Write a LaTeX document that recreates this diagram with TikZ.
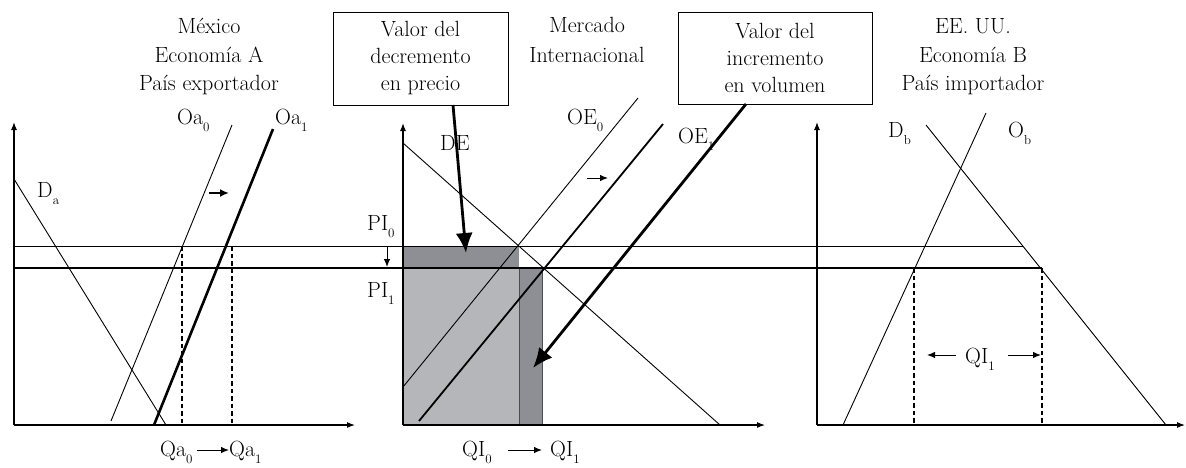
\documentclass[tikz,border=0pt]{standalone}
\usepackage{fontspec}
\usetikzlibrary{arrows.meta}
\definecolor{darkfill}{HTML}{8E8F94}
\definecolor{lightfill}{HTML}{B5B6BA}
\newcommand\lsub[1]{\raisebox{-7.5pt}{\fontsize{13}{13}\selectfont #1}}
\begin{document}
\begin{tikzpicture}[x=1pt,y=-1pt,
  axisln/.style={line width=1.1pt,-{Latex[length=8pt,width=6pt]}},
  thinln/.style={line width=0.9pt},
  thickln/.style={line width=2.6pt},
  dashln/.style={line width=1.1pt,dash pattern=on 4.5pt off 3pt},
  smallarr/.style={line width=1pt,-{Latex[length=8pt,width=6.5pt]}},
  bigarr/.style={line width=2.8pt,-{Latex[length=20pt,width=17pt]}},
  lbl/.style={font=\fontsize{22}{27}\selectfont,inner sep=0pt,anchor=base west},
  ttl/.style={font=\fontsize{22}{27}\selectfont,inner sep=0pt,anchor=base},
  boxn/.style={draw,line width=1pt,align=center,inner sep=0pt,font=\fontsize{22}{27}\selectfont}]
\useasboundingbox (0,0) rectangle (1186,467);

% ---------- shaded areas (middle panel)
\fill[darkfill] (403,246) rectangle (519,268);
\filldraw[fill=lightfill,draw=black!70,line width=0.9pt] (403,268) rectangle (519,425);
\filldraw[fill=darkfill,draw=black!70,line width=0.9pt] (519,268) rectangle (542,425);

% ---------- coordinates
% left panel
\coordinate (LO) at (14,425);
\coordinate (LY) at (14,122);
\coordinate (LX) at (355,425);
\coordinate (Da1) at (14,179);   \coordinate (Da2) at (166,425);
\coordinate (Oa01) at (232,125); \coordinate (Oa02) at (111,421);
\coordinate (Oa11) at (273,129); \coordinate (Oa12) at (154,425);
\coordinate (sa1) at (209,193);  \coordinate (sa2) at (229,193);
\coordinate (d11) at (182,246);  \coordinate (d12) at (182,425);
\coordinate (d21) at (232,246);  \coordinate (d22) at (232,425);
% middle panel
\coordinate (MO) at (403,425);
\coordinate (MY) at (403,123);
\coordinate (MX) at (765,425);
\coordinate (DE1) at (403,143);  \coordinate (DE2) at (720,425);
\coordinate (OE01) at (638,98);  \coordinate (OE02) at (403,387);
\coordinate (OE11) at (663,124); \coordinate (OE12) at (419,421);
\coordinate (sm1) at (587,178);  \coordinate (sm2) at (608,178);
\coordinate (pa1) at (387,247);  \coordinate (pa2) at (387,267);
% right panel
\coordinate (RO) at (817,425);
\coordinate (RY) at (817,122);
\coordinate (RX) at (1185,425);
\coordinate (Db1) at (926,125);  \coordinate (Db2) at (1166,425);
\coordinate (Ob1) at (986,113);  \coordinate (Ob2) at (843,425);
\coordinate (e11) at (914,268);  \coordinate (e12) at (914,425);
\coordinate (e21) at (1042,268); \coordinate (e22) at (1042,425);
% price lines
\coordinate (P0a) at (14,246);   \coordinate (P0b) at (1023,246);
\coordinate (P1a) at (14,268);   \coordinate (P1b) at (1042,268);

% ---------- price lines
\draw[thinln] (P0a) -- (P0b);
\draw[thickln,line width=2.4pt] (P1a) -- (P1b);

% ---------- left panel
\draw[axisln] (LO) -- (LY);
\draw[axisln] (LO) -- (LX);
\draw[thinln] (Da1) -- (Da2);
\draw[thinln] (Oa01) -- (Oa02);
\draw[thickln] (Oa11) -- (Oa12);
\draw[line width=2.2pt,-{Latex[length=9pt,width=8pt]}] (sa1) -- (sa2);
\draw[dashln] (d11) -- (d12);
\draw[dashln] (d21) -- (d22);

% ---------- middle panel
\draw[axisln] (MO) -- (MY);
\draw[axisln] (MO) -- (MX);
\draw[thinln] (DE1) -- (DE2);
\draw[thinln] (OE01) -- (OE02);
\draw[line width=1.8pt] (OE11) -- (OE12);
\draw[smallarr] (sm1) -- (sm2);
\draw[smallarr] (pa1) -- (pa2);

% ---------- right panel
\draw[axisln] (RO) -- (RY);
\draw[axisln] (RO) -- (RX);
\draw[thinln] (Db1) -- (Db2);
\draw[thinln] (Ob1) -- (Ob2);
\draw[dashln] (e11) -- (e12);
\draw[dashln] (e21) -- (e22);

% ---------- titles
\node[ttl] (t1) at (209,33) {México};
\node[ttl] (t2) at (209,62) {Economía A};
\node[ttl] (t3) at (209,90) {País exportador};
\node[ttl] (t4) at (587,32) {Mercado};
\node[ttl] (t5) at (587,62) {Internacional};
\node[ttl] (t6) at (973,33) {EE. UU.};
\node[ttl] (t7) at (973,62) {Economía B};
\node[ttl] (t8) at (973,90) {País importador};

% ---------- boxes
\node[boxn,minimum width=175pt,minimum height=93pt] (boxL) at (420.5,58.5)
  {Valor del\\decremento\\en precio};
\node[boxn,minimum width=194pt,minimum height=92pt] (boxR) at (775,58)
  {Valor del\\incremento\\en volumen};
\coordinate (bLs) at (453,105); \coordinate (bLt) at (466,253);
\coordinate (bRs) at (746,104); \coordinate (bRt) at (533,368);

% ---------- labels
\node[lbl] (la) at (37,197) {D\lsub{a}};
\node[lbl] (loa0) at (177,124) {Oa\lsub{0}};
\node[lbl] (loa1) at (275,124) {Oa\lsub{1}};
\node[lbl] (lpi0) at (367,230) {PI\lsub{0}};
\node[lbl] (lpi1) at (367,297) {PI\lsub{1}};
\node[lbl] (loe0) at (567,124) {OE\lsub{0}};
\node[lbl] (loe1) at (678,143) {OE\lsub{1}};
\node[lbl] (lde) at (440,150) {DE};
\node[lbl] (ldb) at (888,137) {D\lsub{b}};
\node[lbl] (lob) at (1008,137) {O\lsub{b}};
\node[lbl] (lqa0) at (160,456) {Qa\lsub{0}};
\node[lbl] (lqa1) at (229,456) {Qa\lsub{1}};
\node[lbl] (lqi0) at (462,456) {QI\lsub{0}};
\node[lbl] (lqi1) at (550,456) {QI\lsub{1}};
\node[lbl] (lqir) at (965,363) {QI\lsub{1}};
\coordinate (qa1) at (197,450); \coordinate (qa2) at (229,450);
\coordinate (qi1) at (508,450); \coordinate (qi2) at (542,450);
\coordinate (qr1) at (956,355); \coordinate (qr2) at (927,355);
\coordinate (qr3) at (1008,355); \coordinate (qr4) at (1041,355);
\draw[smallarr] (qa1) -- (qa2);
\draw[smallarr] (qi1) -- (qi2);
\draw[smallarr] (qr1) -- (qr2);
\draw[smallarr] (qr3) -- (qr4);

% ---------- big arrows
\draw[bigarr] (bLs) -- (bLt);
\draw[bigarr] (bRs) -- (bRt);
\end{tikzpicture}
\end{document}
